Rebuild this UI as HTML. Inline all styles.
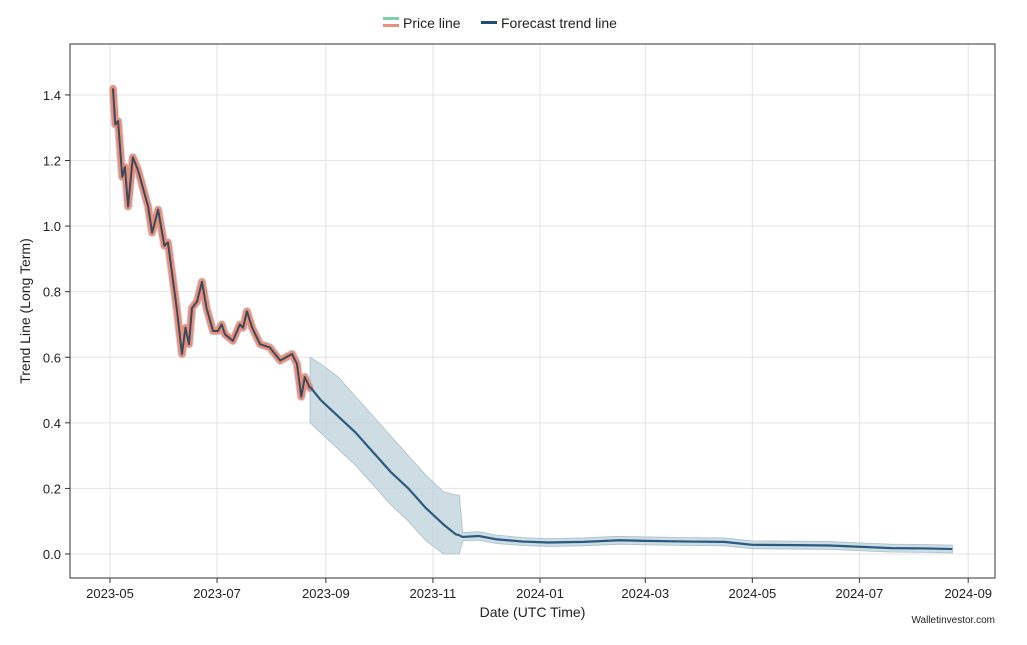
<!DOCTYPE html>
<html><head><meta charset="utf-8"><style>
body{margin:0;background:#fff;font-family:"Liberation Sans",sans-serif}
svg text{font-family:"Liberation Sans",sans-serif;fill:#222}
</style></head><body>
<svg id="chart" width="1027" height="640">
<rect x="0" y="0" width="1027" height="640" fill="#fff"/>
<g id="grid"></g><g id="series"></g><g id="axes"></g>
<g>
 <rect x="383" y="17" width="16" height="3" fill="#7fcdb0"/>
 <rect x="383" y="24" width="16" height="3" fill="#e8907e"/>
 <text x="403" y="28" font-size="14">Price line</text>
 <rect x="481" y="21" width="16" height="3" fill="#1f4e79"/>
 <text x="501" y="28" font-size="14">Forecast trend line</text>
</g>
<text x="995" y="623" font-size="10" text-anchor="end">Walletinvestor.com</text>
</svg>
<script>
const xTickLabels=["2023-05","2023-07","2023-09","2023-11","2024-01","2024-03","2024-05","2024-07","2024-09"];
const xTickDays=[0,61,123,184,245,305,366,427,489];
const yTicks=[0,0.2,0.4,0.6,0.8,1.0,1.2,1.4];
const priceDays=[1.7,3,4.6,7,8.5,10.3,13,16,21.7,24,27.4,31,33,38,41,43,45,46.7,49.6,52.4,55,58.7,61.5,63.6,65.5,70,74,75.8,78,81,85.5,91,97,103.7,106.5,109,111,114];
const priceVals=[1.42,1.31,1.32,1.15,1.18,1.06,1.21,1.17,1.06,0.98,1.05,0.94,0.95,0.75,0.61,0.69,0.64,0.75,0.77,0.83,0.75,0.68,0.68,0.70,0.67,0.65,0.70,0.69,0.74,0.69,0.64,0.63,0.59,0.61,0.58,0.48,0.54,0.505];
const fcDays=[114,120,130,140,150,160,170,180,190,197,199,201,210,220,235,250,270,290,305,330,350,366,390,410,427,445,465,480];
const fcVals=[0.51,0.47,0.42,0.37,0.31,0.25,0.20,0.14,0.09,0.06,0.057,0.052,0.055,0.045,0.038,0.035,0.037,0.042,0.040,0.038,0.037,0.028,0.027,0.026,0.022,0.018,0.017,0.015];
const fcHi=[0.60,0.58,0.54,0.48,0.42,0.36,0.30,0.24,0.19,0.18,0.18,0.065,0.068,0.058,0.050,0.047,0.049,0.054,0.052,0.050,0.049,0.040,0.039,0.038,0.034,0.030,0.029,0.027];
const fcLo=[0.40,0.37,0.32,0.27,0.21,0.15,0.10,0.04,0,0,0,0.040,0.042,0.032,0.026,0.023,0.025,0.030,0.028,0.026,0.025,0.016,0.015,0.014,0.010,0.006,0.005,0.003];
const L=70,R=995,T=44,B=578;
const X=d=>110+d*1.755, Y=v=>554-v*327.9;
const NS="http://www.w3.org/2000/svg";
function mk(tag,attrs,parent){const e=document.createElementNS(NS,tag);for(const k in attrs)e.setAttribute(k,attrs[k]);parent.appendChild(e);return e;}
const grid=document.getElementById('grid'),axes=document.getElementById('axes'),ser=document.getElementById('series');
xTickDays.forEach((d,i)=>{
 const gl=mk('line',{x1:X(d),x2:X(d),y1:T,y2:B,stroke:'#e3e3e3','stroke-width':1},grid);
 
 
 mk('line',{x1:X(d),x2:X(d),y1:B,y2:B+5,stroke:'#333'},axes);
 const t=mk('text',{x:X(d),y:B+20,'font-size':13,'text-anchor':'middle'},axes);t.textContent=xTickLabels[i];
 
 
});
yTicks.forEach(v=>{
 const gl=mk('line',{x1:L,x2:R,y1:Y(v),y2:Y(v),stroke:'#e3e3e3','stroke-width':1},grid);
 
 
 mk('line',{x1:L-5,x2:L,y1:Y(v),y2:Y(v),stroke:'#333'},axes);
 const t=mk('text',{x:L-9,y:Y(v)+5,'font-size':13,'text-anchor':'end'},axes);t.textContent=v.toFixed(1);
 
 
});
const fr=mk('rect',{x:L,y:T,width:R-L,height:B-T,fill:'none',stroke:'#333','stroke-width':1},axes);


const xt=mk('text',{x:(L+R)/2,y:617,'font-size':14,'text-anchor':'middle'},axes);xt.textContent='Date (UTC Time)';


const yt=mk('text',{x:30,y:(T+B)/2,'font-size':14,'text-anchor':'middle',transform:`rotate(-90 30 ${(T+B)/2})`},axes);yt.textContent='Trend Line (Long Term)';


let bp=fcDays.map((d,i)=>`${X(d)},${Y(fcHi[i])}`);
for(let i=fcDays.length-1;i>=0;i--)bp.push(`${X(fcDays[i])},${Y(fcLo[i])}`);
const band=mk('polygon',{points:bp.join(' '),fill:'#b9cdd9','fill-opacity':0.7,stroke:'#a9bfcd','stroke-width':0.8},ser);


const pp=priceDays.map((d,i)=>`${X(d)},${Y(priceVals[i])}`).join(' ');
const pb=mk('polyline',{points:pp,fill:'none',stroke:'#b9cdd9','stroke-width':9,'stroke-opacity':0.6,'stroke-linejoin':'round'},ser);


const pl=mk('polyline',{points:pp,fill:'none',stroke:'#e8907e','stroke-width':7,'stroke-linejoin':'round','stroke-linecap':'round'},ser);


const pi=mk('polyline',{points:pp,fill:'none',stroke:'#3a4a5c','stroke-width':2,'stroke-linejoin':'round'},ser);


const fl=mk('polyline',{points:fcDays.map((d,i)=>`${X(d)},${Y(fcVals[i])}`).join(' '),fill:'none',stroke:'#2a5a80','stroke-width':2.2,'stroke-linejoin':'round'},ser);


</script>
</body></html>
